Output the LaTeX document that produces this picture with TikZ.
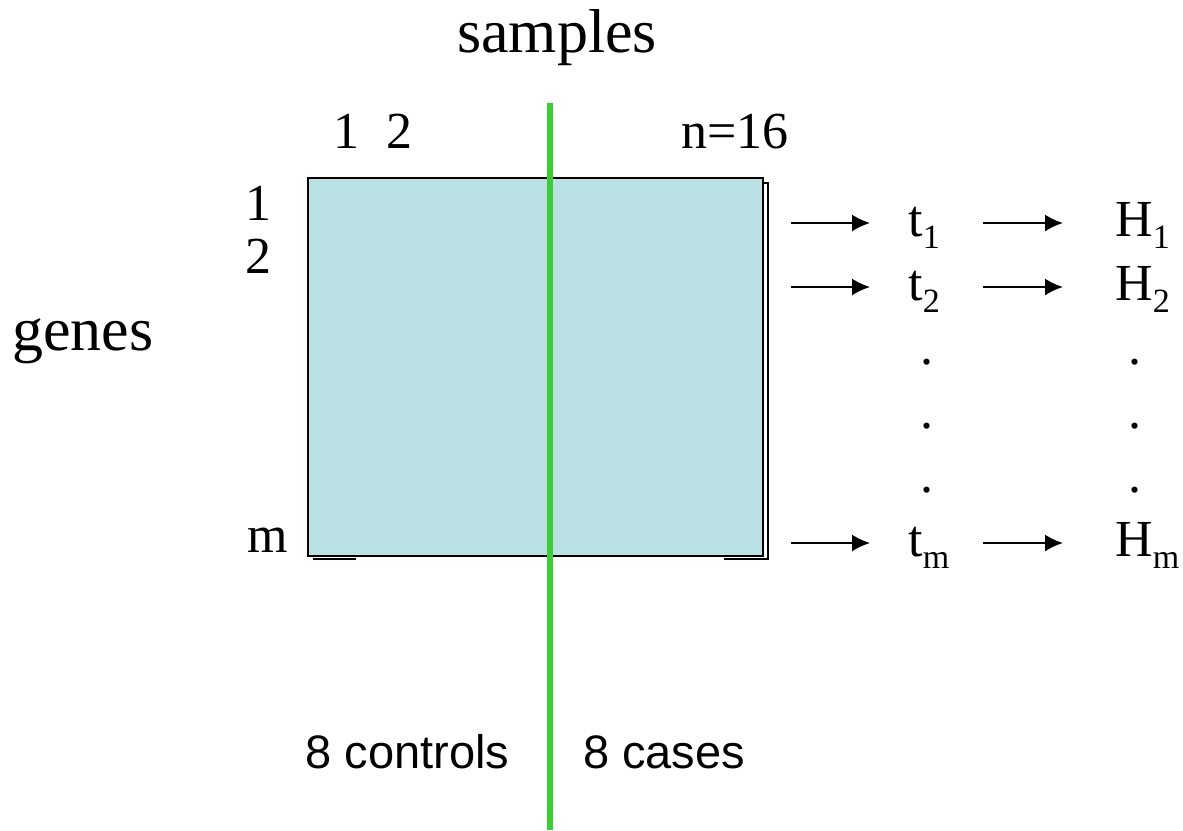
\documentclass[tikz,border=0pt]{standalone}
\usepackage{fontspec}
\setmainfont{Liberation Serif}
\setsansfont{Liberation Sans}
\usetikzlibrary{arrows.meta}
\definecolor{matfill}{RGB}{185,224,227}
\definecolor{splitgreen}{RGB}{58,206,50}
\newcommand\lowidx[2]{#1\raisebox{-0.24em}{\fontsize{17}{20}\selectfont #2}}

\begin{document}
\begin{tikzpicture}[x=0.5pt,y=-0.5pt]
	\tikzset{>={Latex[length=9pt,width=8.5pt]}}
	\tikzset{lbl/.style={font=\fontsize{26}{31}\selectfont, inner sep=0pt, anchor=base}}
	\tikzset{title/.style={font=\fontsize{31}{37}\selectfont, inner sep=0pt, anchor=base}}
	\tikzset{grp/.style={font=\sffamily\fontsize{23.5}{28}\selectfont, inner sep=0pt, anchor=base}}
	\tikzset{pil/.style={->, line width=1pt}}
	\useasboundingbox (0,0) rectangle (1183,830);

	% sheet behind the matrix
	\draw[line width=1pt] (313,559) -- (356,559);
	\draw[line width=1pt] (724,559) -- (768,559) -- (768,183) -- (763,183);
	% data matrix
	\draw[fill=matfill, line width=1pt] (308,178) rectangle (763,556);

	\node[title] (smp) at (557,52) {samples};
	\node[title] (gen) at (83,350) {genes};
	\node[lbl] (c1) at (346,148) {1};
	\node[lbl] (c2) at (399,148) {2};
	\node[lbl] (cn) at (735,148) {n=16};
	\node[lbl] (r1) at (258,220) {1};
	\node[lbl] (r2) at (258,273) {2};
	\node[lbl] (rm) at (268,552) {m};

	% split controls / cases
	\coordinate (gtop) at (550,103);
	\coordinate (gbot) at (550,830);
	\draw[splitgreen, line width=3pt] (gtop) -- (gbot);
	\node[grp] (ctl) at (407.5,768) {8 controls};
	\node[grp] (cas) at (664,768) {8 cases};

	\foreach \i/\y in {1/223, 2/287, m/543} {
		\coordinate (a\i) at (791,\y);
		\coordinate (b\i) at (983,\y);
		\node[lbl, anchor=base west] (t\i) at (908,\y+13) {\lowidx{t}{\i}};
		\node[lbl, anchor=base west] (H\i) at (1115,\y+13) {\lowidx{H}{\i}};
		\draw[pil, shorten >=19pt] (a\i) -- (a\i -| t\i.west);
		\draw[pil, shorten >=26pt] (b\i) -- (b\i -| H\i.west);
	}
	\foreach \k/\y in {1/361, 2/425, 3/489} {
		\node[lbl] (dt\k) at (927,\y+3) {.};
		\node[lbl] (dh\k) at (1135,\y+3) {.};
	}
\end{tikzpicture}
\end{document}
